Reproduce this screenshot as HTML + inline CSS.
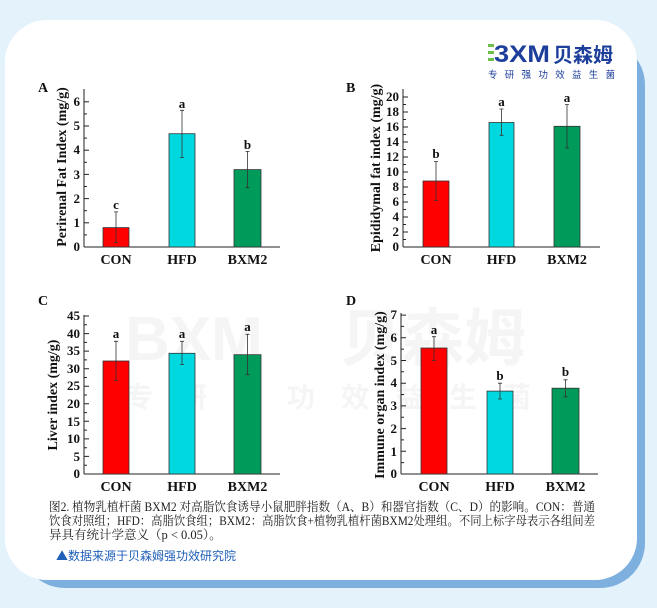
<!DOCTYPE html>
<html><head><meta charset="utf-8"><style>
html,body{margin:0;padding:0;width:657px;height:608px;overflow:hidden;background:#e4f2fc;}
svg{display:block}
.t{font-family:"Liberation Serif","Noto Serif CJK SC",serif;font-weight:bold;fill:#111}
.cap{font-family:"Liberation Serif","Noto Serif CJK SC",serif;fill:#222;font-size:12.5px}
</style></head><body>
<svg width="657" height="608" viewBox="0 0 657 608" xmlns="http://www.w3.org/2000/svg">
<rect x="0" y="0" width="657" height="608" fill="#e4f2fc"/>
<rect x="20" y="40" width="625" height="548" rx="45" fill="#7db0de"/>
<rect x="5" y="20" width="632" height="560" rx="42" fill="#ffffff"/>
<!-- watermark -->
<g fill="#f5f5f5" font-family="Liberation Sans,'Noto Sans CJK SC',sans-serif" font-weight="bold">
<text x="125" y="360" font-size="62">BXM</text>
<text x="340" y="360" font-size="62" font-family="'Noto Sans CJK SC',sans-serif">贝森姆</text>
<text x="125" y="407" font-size="28" letter-spacing="26" font-family="'Noto Sans CJK SC',sans-serif">专研强功效益生菌</text>
</g>
<!-- logo -->
<g>
<rect x="488" y="44" width="6" height="3" fill="#6cc04a"/><rect x="488" y="51" width="6" height="3" fill="#6cc04a"/><rect x="488" y="58" width="6" height="3" fill="#6cc04a"/>
<text x="494" y="62" font-family="Liberation Sans,sans-serif" font-size="24" font-weight="bold" fill="#1d3f9b" textLength="56" lengthAdjust="spacingAndGlyphs">3XM</text>
<text x="553" y="62" font-family="'Noto Sans CJK SC',sans-serif" font-size="20" fill="#1d3f9b" font-weight="bold">贝森姆</text>
<text x="488" y="78" font-family="'Noto Sans CJK SC',sans-serif" font-size="9.5" fill="#1d3f9b" letter-spacing="7.3">专研强功效益生菌</text>
</g>
<g class="t">
<!-- Chart A -->
<text x="38" y="92" font-size="14">A</text>
<text transform="translate(66,167) rotate(-90)" text-anchor="middle" font-size="14">Perirenal Fat Index (mg/g)</text>
<g stroke="#222" stroke-width="1">
<line x1="84" y1="89" x2="84" y2="247"/><line x1="84" y1="247" x2="280" y2="247"/>
<line x1="84" y1="247" x2="89" y2="247"/><line x1="84" y1="222.8" x2="89" y2="222.8"/><line x1="84" y1="198.6" x2="89" y2="198.6"/><line x1="84" y1="174.4" x2="89" y2="174.4"/><line x1="84" y1="150.2" x2="89" y2="150.2"/><line x1="84" y1="126" x2="89" y2="126"/><line x1="84" y1="101.8" x2="89" y2="101.8"/>
<line x1="84" y1="234.9" x2="87" y2="234.9"/><line x1="84" y1="210.7" x2="87" y2="210.7"/><line x1="84" y1="186.5" x2="87" y2="186.5"/><line x1="84" y1="162.3" x2="87" y2="162.3"/><line x1="84" y1="138.1" x2="87" y2="138.1"/><line x1="84" y1="113.9" x2="87" y2="113.9"/>
</g>
<g font-size="13" text-anchor="end"><text x="80" y="251">0</text><text x="80" y="227">1</text><text x="80" y="203">2</text><text x="80" y="179">3</text><text x="80" y="154">4</text><text x="80" y="130">5</text><text x="80" y="106">6</text></g>
<g stroke="#333" stroke-width="0.8">
<rect x="103" y="227.6" width="26" height="19.4" fill="#ff0000"/>
<rect x="169" y="133.7" width="26" height="113.3" fill="#00d8e0"/>
<rect x="234" y="169.6" width="27" height="77.4" fill="#009a5a"/>
<path d="M116 211.9V242.6M114 211.9h4M114 242.6h4M182 110.3V157.5M180 110.3h4M180 157.5h4M247.5 151.4V187.7M245.5 151.4h4M245.5 187.7h4" fill="none"/>
</g>
<g font-size="13" text-anchor="middle"><text x="116" y="209">c</text><text x="182" y="108">a</text><text x="247.5" y="149">b</text></g>
<g font-size="14" text-anchor="middle"><text x="116" y="264">CON</text><text x="182" y="264">HFD</text><text x="247.5" y="264">BXM2</text></g>

<!-- Chart B -->
<text x="346" y="92" font-size="14">B</text>
<text transform="translate(380,168) rotate(-90)" text-anchor="middle" font-size="14">Epididymal fat index (mg/g)</text>
<g stroke="#222" stroke-width="1">
<line x1="403" y1="89" x2="403" y2="247"/><line x1="403" y1="247" x2="600" y2="247"/>
<path d="M403 247h5M403 232h5M403 217h5M403 202h5M403 187h5M403 172h5M403 157h5M403 142h5M403 127h5M403 112h5M403 97h5M403 239.5h3M403 224.5h3M403 209.5h3M403 194.5h3M403 179.5h3M403 164.5h3M403 149.5h3M403 134.5h3M403 119.5h3M403 104.5h3"/>
</g>
<g font-size="13" text-anchor="end"><text x="399" y="251">0</text><text x="399" y="236">2</text><text x="399" y="221">4</text><text x="399" y="206">6</text><text x="399" y="191">8</text><text x="399" y="176">10</text><text x="399" y="161">12</text><text x="399" y="146">14</text><text x="399" y="131">16</text><text x="399" y="116">18</text><text x="399" y="101">20</text></g>
<g stroke="#333" stroke-width="0.8">
<rect x="423" y="181" width="26" height="66" fill="#ff0000"/>
<rect x="489" y="122.5" width="25" height="124.5" fill="#00d8e0"/>
<rect x="554" y="126.3" width="26" height="120.7" fill="#009a5a"/>
<path d="M436 161.5V200.5M434 161.5h4M434 200.5h4M501.5 109V135.3M499.5 109h4M499.5 135.3h4M567 104.5V148M565 104.5h4M565 148h4" fill="none"/>
</g>
<g font-size="13" text-anchor="middle"><text x="436" y="158">b</text><text x="501.5" y="106">a</text><text x="567" y="102">a</text></g>
<g font-size="14" text-anchor="middle"><text x="436" y="264">CON</text><text x="501.5" y="264">HFD</text><text x="567" y="264">BXM2</text></g>

<!-- Chart C -->
<text x="38" y="305" font-size="14">C</text>
<text transform="translate(57,395) rotate(-90)" text-anchor="middle" font-size="14">Liver index (mg/g)</text>
<g stroke="#222" stroke-width="1">
<line x1="84" y1="315" x2="84" y2="474"/><line x1="84" y1="474" x2="280" y2="474"/>
<path d="M84 474h5M84 456.4h5M84 438.9h5M84 421.3h5M84 403.8h5M84 386.2h5M84 368.7h5M84 351.1h5M84 333.6h5M84 316h5M84 465.2h3M84 447.7h3M84 430.1h3M84 412.6h3M84 395h3M84 377.5h3M84 359.9h3M84 342.4h3M84 324.8h3"/>
</g>
<g font-size="13" text-anchor="end"><text x="80" y="478">0</text><text x="80" y="461">5</text><text x="80" y="443">10</text><text x="80" y="426">15</text><text x="80" y="408">20</text><text x="80" y="390">25</text><text x="80" y="373">30</text><text x="80" y="355">35</text><text x="80" y="338">40</text><text x="80" y="320">45</text></g>
<g stroke="#333" stroke-width="0.8">
<rect x="103" y="361" width="26" height="113" fill="#ff0000"/>
<rect x="169" y="353.3" width="26" height="120.7" fill="#00d8e0"/>
<rect x="234" y="354.7" width="27" height="119.3" fill="#009a5a"/>
<path d="M116 341.3V380.6M114 341.3h4M114 380.6h4M182 341.3V364.5M180 341.3h4M180 364.5h4M247.5 334.3V374.7M245.5 334.3h4M245.5 374.7h4" fill="none"/>
</g>
<g font-size="13" text-anchor="middle"><text x="116" y="338">a</text><text x="182" y="338">a</text><text x="247.5" y="331">a</text></g>
<g font-size="14" text-anchor="middle"><text x="116" y="491">CON</text><text x="182" y="491">HFD</text><text x="247.5" y="491">BXM2</text></g>

<!-- Chart D -->
<text x="346" y="305" font-size="14">D</text>
<text transform="translate(384,395) rotate(-90)" text-anchor="middle" font-size="14">Immune organ index (mg/g)</text>
<g stroke="#222" stroke-width="1">
<line x1="401" y1="313" x2="401" y2="474"/><line x1="401" y1="474" x2="598" y2="474"/>
<path d="M401 474h5M401 451.3h5M401 428.6h5M401 405.9h5M401 383.2h5M401 360.5h5M401 337.8h5M401 315.1h5M401 462.6h3M401 439.9h3M401 417.2h3M401 394.5h3M401 371.8h3M401 349.1h3M401 326.4h3"/>
</g>
<g font-size="13" text-anchor="end"><text x="397" y="478">0</text><text x="397" y="456">1</text><text x="397" y="433">2</text><text x="397" y="410">3</text><text x="397" y="387">4</text><text x="397" y="365">5</text><text x="397" y="342">6</text><text x="397" y="319">7</text></g>
<g stroke="#333" stroke-width="0.8">
<rect x="421" y="348" width="26" height="126" fill="#ff0000"/>
<rect x="487" y="391.1" width="26" height="82.9" fill="#00d8e0"/>
<rect x="552" y="388.2" width="27" height="85.8" fill="#009a5a"/>
<path d="M434 336.7V360.5M432 336.7h4M432 360.5h4M500 383.2V399M498 383.2h4M498 399h4M565.5 379.8V396.8M563.5 379.8h4M563.5 396.8h4" fill="none"/>
</g>
<g font-size="13" text-anchor="middle"><text x="434" y="334">a</text><text x="500" y="380">b</text><text x="565.5" y="376">b</text></g>
<g font-size="14" text-anchor="middle"><text x="434" y="491">CON</text><text x="500" y="491">HFD</text><text x="565.5" y="491">BXM2</text></g>
</g>
<!-- caption -->
<text class="cap" x="49" y="511" textLength="546" lengthAdjust="spacingAndGlyphs">图2. 植物乳植杆菌 BXM2 对高脂饮食诱导小鼠肥胖指数（A、B）和器官指数（C、D）的影响。CON：普通</text>
<text class="cap" x="49" y="525" textLength="546" lengthAdjust="spacingAndGlyphs">饮食对照组；HFD：高脂饮食组；BXM2：高脂饮食+植物乳植杆菌BXM2处理组。不同上标字母表示各组间差</text>
<text class="cap" x="49" y="539">异具有统计学意义（p &lt; 0.05）。</text>
<text x="56" y="560" font-family="'Noto Sans CJK SC',sans-serif" font-size="12" fill="#1f5fb8">▲数据来源于贝森姆强功效研究院</text>
</svg>
</body></html>
